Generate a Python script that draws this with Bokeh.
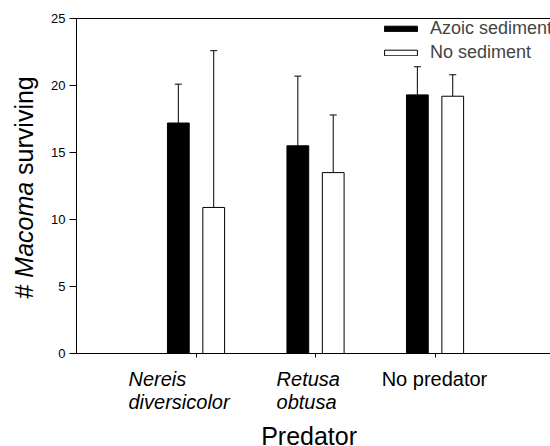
import math
from bokeh.plotting import figure
from bokeh.layouts import row, column
from bokeh.models import (Range1d, LinearAxis, FixedTicker, Label, Whisker, TeeHead,
                          ColumnDataSource, Legend, LegendItem)
from bokeh.embed import file_html
from bokeh.resources import INLINE

# ---- data ----
categories = ["Nereis diversicolor", "Retusa obtusa", "No predator"]
azoic = [17.2, 15.5, 19.3]
azoic_err = [2.9, 5.2, 2.1]
nosed = [10.9, 13.5, 19.2]
nosed_err = [11.7, 4.3, 1.6]
y_ticks = [0, 5, 10, 15, 20, 25]
series_names = ["Azoic sediment", "No sediment"]

FONT = "Liberation Sans"
pos = [i + 1 for i in range(len(categories))]
off = 0.148
bw = 0.182

xr = Range1d(0, 3.966)


def blank(fig):
    fig.outline_line_color = None
    fig.background_fill_color = "white"
    fig.border_fill_color = "white"
    fig.axis.visible = False
    fig.grid.visible = False


# ---- main plot ----
p = figure(width=510, height=360, output_backend="svg", toolbar_location=None,
           x_range=xr, y_range=Range1d(0, 25),
           min_border_left=36, min_border_right=0, min_border_top=18, min_border_bottom=7)
p.outline_line_color = None
p.xgrid.grid_line_color = None
p.ygrid.grid_line_color = None
p.background_fill_color = "white"
p.border_fill_color = "white"

p.xaxis.ticker = FixedTicker(ticks=pos)
p.xaxis.major_label_text_font_size = "0px"
p.xaxis.major_tick_in = 0
p.xaxis.major_tick_out = 4
p.xaxis.minor_tick_line_color = None
p.xaxis.axis_line_color = "black"
p.xaxis.major_tick_line_color = "black"

p.yaxis.ticker = FixedTicker(ticks=y_ticks)
p.yaxis.major_tick_in = 0
p.yaxis.major_tick_out = 7
p.yaxis.major_label_standoff = 4
p.yaxis.minor_tick_line_color = None
p.yaxis.axis_line_color = "black"
p.yaxis.major_tick_line_color = "black"
p.yaxis.major_label_text_font = FONT
p.yaxis.major_label_text_font_size = "13px"
p.yaxis.major_label_text_color = "black"

top_axis = LinearAxis(ticker=FixedTicker(ticks=[]), major_label_text_font_size="0px",
                      axis_line_color="black", major_tick_line_color=None,
                      minor_tick_line_color=None)
p.add_layout(top_axis, "above")

r1 = p.vbar(x=[x - off for x in pos], top=azoic, bottom=0, width=bw,
            fill_color="black", line_color="black", line_width=1)
r2 = p.vbar(x=[x + off for x in pos], top=nosed, bottom=0, width=bw,
            fill_color="white", line_color="black", line_width=1)

for xs, vals, errs in (([x - off for x in pos], azoic, azoic_err),
                       ([x + off for x in pos], nosed, nosed_err)):
    src = ColumnDataSource(dict(x=xs, lower=vals, upper=[v + e for v, e in zip(vals, errs)]))
    w = Whisker(base="x", lower="lower", upper="upper", source=src, dimension="height",
                line_color="black", line_width=1, lower_head=None,
                upper_head=TeeHead(size=7, line_color="black", line_width=1))
    p.add_layout(w)

legend = Legend(items=[LegendItem(label=series_names[0], renderers=[r1]),
                       LegendItem(label=series_names[1], renderers=[r2])],
                location=(304, 290), glyph_width=41, glyph_height=7,
                label_text_font=FONT, label_text_font_size="18px", label_standoff=9,
                spacing=3, padding=0, margin=0, label_height=20,
                border_line_color=None, background_fill_alpha=0)
p.add_layout(legend)

# ---- bottom text strip (category labels + x title) ----
b = figure(width=510, height=86, output_backend="svg", toolbar_location=None,
           x_range=xr, y_range=Range1d(-6.94, -0.522),
           min_border_left=36, min_border_right=0, min_border_top=0, min_border_bottom=0)
blank(b)

cat_lines = [("Nereis", "diversicolor"), ("Retusa", "obtusa"), ("No predator",)]
cat_styles = ["italic", "italic", "normal"]
cat_x = [0.435, 1.674, 2.995]
cat_align = ["left", "left", "center"]
line_y = [-1.92, -3.64]
for lines, st, cx, al in zip(cat_lines, cat_styles, cat_x, cat_align):
    for ln, ly in zip(lines, line_y):
        b.add_layout(Label(x=cx, y=ly, text=ln, text_font=FONT, text_font_style=st,
                           text_font_size="20px", text_align=al, text_baseline="middle",
                           text_color="black"))

b.add_layout(Label(x=1.946, y=-6.16, text="Predator", text_font=FONT, text_font_size="25px",
                   text_align="center", text_baseline="middle", text_color="black"))

# ---- left text strip (y title) ----
l = figure(width=40, height=446, output_backend="svg", toolbar_location=None,
           x_range=Range1d(-0.636, -0.301), y_range=Range1d(-6.94, 26.343),
           min_border=0)
blank(l)

yx = -0.44
l.add_layout(Label(x=yx, y=5.14, text="#", angle=math.pi / 2, text_font=FONT,
                   text_font_size="25px", text_align="right", text_baseline="middle",
                   text_color="black"))
l.add_layout(Label(x=yx, y=9.235, text="Macoma", angle=math.pi / 2, text_font=FONT,
                   text_font_style="italic", text_font_size="25px", text_align="center",
                   text_baseline="middle", text_color="black"))
l.add_layout(Label(x=yx, y=13.33, text="surviving", angle=math.pi / 2, text_font=FONT,
                   text_font_size="25px", text_align="left", text_baseline="middle",
                   text_color="black"))

layout = row(l, column(p, b, spacing=0), spacing=0)
open("out.html", "w").write(file_html(layout, INLINE))
